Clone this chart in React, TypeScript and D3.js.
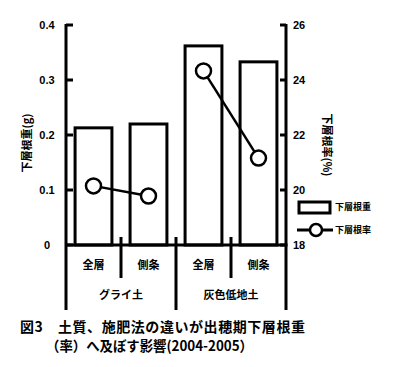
import * as d3 from "d3";

const categories = ["全層", "側条", "全層", "側条"];
const groups = ["グライ土", "灰色低地土"];
const rootWeight = [0.213, 0.22, 0.362, 0.333]; // 下層根重 (g)
const rootRate = [20.15, 19.78, 24.33, 21.16]; // 下層根率 (%)
const leftTicks = [0, 0.1, 0.2, 0.3, 0.4];
const rightTicks = [18, 20, 22, 24, 26];

const JP = "'Noto Sans CJK JP', sans-serif";
const NUM = "'Liberation Sans Narrow', 'Liberation Sans', Arial, sans-serif";

export default function App() {
  const margin = { left: 66, right: 286, top: 25, bottom: 245 };
  const idx = categories.map((_, i) => String(i));
  const x = d3
    .scaleBand()
    .domain(idx)
    .range([margin.left, margin.right])
    .paddingInner(0.33)
    .paddingOuter(0.165);
  const step = x.step();
  const yL = d3.scaleLinear().domain([0, 0.4]).range([margin.bottom, margin.top]);
  const yR = d3.scaleLinear().domain([18, 26]).range([margin.bottom, margin.top]);
  const cx = (i: number) => x(String(i))! + x.bandwidth() / 2;

  const pairs = [
    [0, 1],
    [2, 3],
  ];

  return (
    <svg
      width={394}
      height={367}
      style={{ position: "absolute", left: 0, top: 0, background: "#fff" }}
    >
      {/* bars */}
      {rootWeight.map((v, i) => (
        <rect
          key={"b" + i}
          x={x(String(i))}
          y={yL(v)}
          width={x.bandwidth()}
          height={yL(0) - yL(v)}
          fill="#fff"
          stroke="#000"
          strokeWidth={3}
        />
      ))}

      {/* axes */}
      <line x1={margin.left} x2={margin.left} y1={margin.top - 1} y2={310} stroke="#000" strokeWidth={3} />
      <line x1={margin.right} x2={margin.right} y1={margin.top - 1} y2={310} stroke="#000" strokeWidth={3} />
      <line x1={margin.left} x2={margin.right + 1.5} y1={yL(0)} y2={yL(0)} stroke="#000" strokeWidth={3} />
      {leftTicks.map((t) => (
        <g key={"lt" + t}>
          <line x1={margin.left} x2={margin.left + 7} y1={yL(t)} y2={yL(t)} stroke="#000" strokeWidth={3} />
          <text
            x={47}
            y={yL(t)}
            dy="0.35em"
            textAnchor="middle"
            fontFamily={NUM}
            fontWeight="bold"
            fontSize={11}
          >
            {t === 0 ? "0" : t.toFixed(1)}
          </text>
        </g>
      ))}
      {rightTicks.map((t) => (
        <g key={"rt" + t}>
          <line x1={margin.right - 6} x2={margin.right} y1={yR(t)} y2={yR(t)} stroke="#000" strokeWidth={3} />
          <text
            x={293}
            y={yR(t)}
            dy="0.35em"
            fontFamily={NUM}
            fontWeight="bold"
            fontSize={11}
          >
            {t}
          </text>
        </g>
      ))}

      {/* separators below the axis */}
      {idx.slice(1).map((d, i) => {
        const sx = x(d)! - (step - x.bandwidth()) / 2;
        const groupBreak = (i + 1) % 2 === 0;
        return (
          <line
            key={"s" + i}
            x1={sx}
            x2={sx}
            y1={237}
            y2={groupBreak ? 310 : 278}
            stroke="#000"
            strokeWidth={3}
          />
        );
      })}

      {/* category labels */}
      {categories.map((c, i) => (
        <text
          key={"c" + i}
          x={cx(i)}
          y={265}
          dy="0.35em"
          textAnchor="middle"
          fontFamily={JP}
          fontWeight="bold"
          fontSize={11}
        >
          {c}
        </text>
      ))}
      {groups.map((g, gi) => (
        <text
          key={"g" + gi}
          x={(cx(gi * 2) + cx(gi * 2 + 1)) / 2}
          y={295}
          dy="0.35em"
          textAnchor="middle"
          fontFamily={JP}
          fontWeight="bold"
          fontSize={11}
        >
          {g}
        </text>
      ))}

      {/* rate lines */}
      {pairs.map((p, k) => (
        <path
          key={"l" + k}
          d={
            d3
              .line<number>()
              .x((i) => cx(i))
              .y((i) => yR(rootRate[i]))(p) ?? ""
          }
          fill="none"
          stroke="#000"
          strokeWidth={2.5}
        />
      ))}
      {rootRate.map((v, i) => (
        <circle key={"p" + i} cx={cx(i)} cy={yR(v)} r={7.5} fill="#fff" stroke="#000" strokeWidth={2.5} />
      ))}

      {/* axis titles */}
      <text
        transform={`translate(27,${(margin.top + margin.bottom) / 2 + 8}) rotate(-90)`}
        textAnchor="middle"
        dy="0.35em"
        fontFamily={JP}
        fontWeight="bold"
        fontSize={11}
      >
        下層根重(g)
      </text>
      <text
        transform={`translate(327,${(margin.top + margin.bottom) / 2 + 10}) rotate(90)`}
        textAnchor="middle"
        dy="0.35em"
        fontFamily={JP}
        fontWeight="bold"
        fontSize={11}
      >
        下層根率(%)
      </text>

      {/* legend */}
      <rect x={299} y={202} width={31} height={11} fill="#fff" stroke="#000" strokeWidth={3} />
      <text x={335} y={207} dy="0.35em" fontFamily={JP} fontWeight="bold" fontSize={9}>
        下層根重
      </text>
      <line x1={297} x2={333} y1={230} y2={230} stroke="#000" strokeWidth={3} />
      <circle cx={316} cy={230} r={6} fill="#fff" stroke="#000" strokeWidth={2.5} />
      <text x={335} y={230} dy="0.35em" fontFamily={JP} fontWeight="bold" fontSize={9}>
        下層根率
      </text>

      {/* caption */}
      <text
        x={20}
        y={327}
        dy="0.35em"
        fontFamily={JP}
        fontWeight="bold"
        fontSize={14}
        textLength={285}
        lengthAdjust="spacing"
      >
        図3　土質、施肥法の違いが出穂期下層根重
      </text>
      <text
        x={46}
        y={346}
        dy="0.35em"
        fontFamily={JP}
        fontWeight="bold"
        fontSize={14}
        textLength={207}
        lengthAdjust="spacingAndGlyphs"
      >
        （率）へ及ぼす影響(2004-2005）
      </text>
    </svg>
  );
}
